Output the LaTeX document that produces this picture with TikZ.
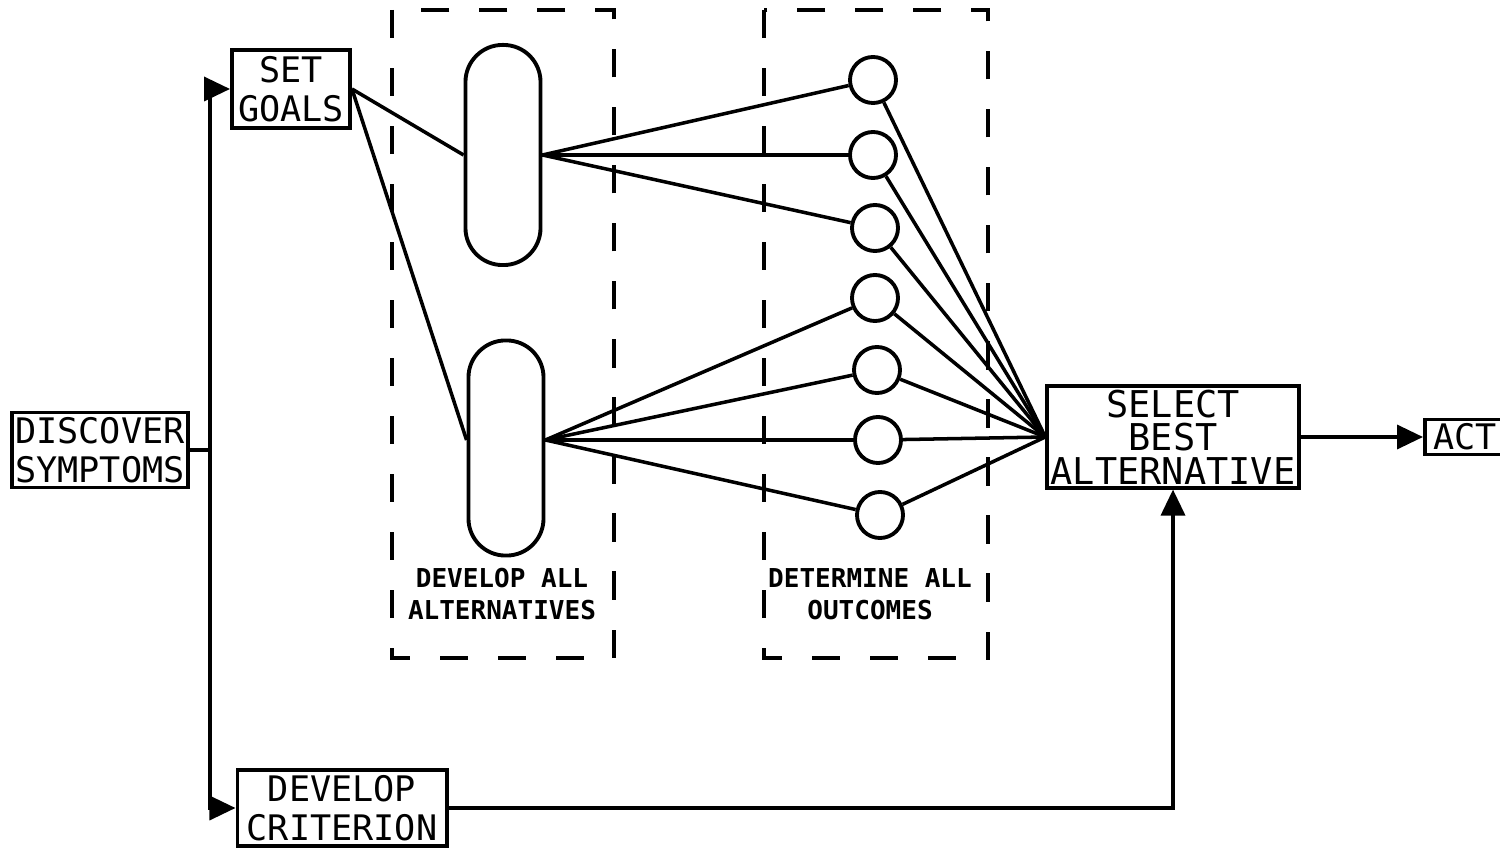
\documentclass[tikz,border=0pt]{standalone}
\usepackage{fontspec}
\newfontfamily\plotfont{DejaVu Sans Mono}
\usetikzlibrary{arrows.meta,positioning,shapes,calc}

\begin{document}
\begin{tikzpicture}[
  x=0.01cm, y=-0.01cm,
  box/.style={rectangle, draw, line width=1.1pt, align=center, inner sep=1pt,
              font=\plotfont\fontsize{10}{11}\selectfont},
  pill/.style={rectangle, draw, line width=1.1pt, rounded corners=0.37cm,
               minimum width=0.75cm},
  outcome/.style={circle, draw, line width=1.1pt, minimum size=0.46cm, inner sep=0pt},
  dashbox/.style={draw, line width=1.3pt, dash pattern=on 8pt off 8.5pt},
  lbl/.style={align=center, font=\plotfont\bfseries\fontsize{7.4}{9.2}\selectfont},
  arrow/.style={-{Triangle[length=2.6mm, width=2.4mm]}, line width=1pt},
  link/.style={line width=1pt}
]
\useasboundingbox (0,0) rectangle (1500,849);

% Main boxes
\node[box, minimum width=1.76cm, minimum height=0.75cm] (disc) at (100,450)
  {DISCOVER\\SYMPTOMS};
\node[box, minimum width=1.18cm, minimum height=0.78cm] (goals) at (291,89)
  {SET\\GOALS};
\node[box, minimum width=2.09cm, minimum height=0.76cm] (crit) at (342,808)
  {DEVELOP\\CRITERION};
\node[box, minimum width=2.42cm, minimum height=0.99cm,
      font=\plotfont\fontsize{10.5}{9.5}\selectfont] (sel) at (1173,437)
  {SELECT\\BEST\\ALTERNATIVE};
\node[box, minimum width=1.0cm, minimum height=0.35cm, anchor=west] (act) at (1423,437)
  {ACT\hspace{0.2cm}};

% Dashed stages
\draw[dashbox] (392,10) rectangle (614,658);
\draw[dashbox] (764,10) rectangle (988,658);
\node[lbl] (devlbl) at (502,594) {DEVELOP ALL\\ALTERNATIVES};
\node[lbl] (detlbl) at (870,594) {DETERMINE ALL\\OUTCOMES};

% Alternatives
\node[pill, minimum height=2.2cm] (alt1) at (503,155) {};
\node[pill, minimum height=2.15cm] (alt2) at (506,448) {};

% Outcomes
\node[outcome] (o1) at (873,80) {};
\node[outcome] (o2) at (873,155) {};
\node[outcome] (o3) at (875,228) {};
\node[outcome] (o4) at (875,298) {};
\node[outcome] (o5) at (877,370) {};
\node[outcome] (o6) at (878,440) {};
\node[outcome] (o7) at (880,515) {};

% Flow from symptoms
\coordinate (split) at (210,450);
\draw[link] (disc.east) -- (split);
\draw[arrow] (split) |- (goals.west);
\draw[arrow] (split) |- (crit.west);
\draw[arrow] (crit.east) -| (sel.south);
\draw[arrow] (sel.east) -- (act.west);

% Goals to alternatives
\draw[link] (goals.east) -- (alt1.west);
\draw[link] (goals.east) -- ([yshift=0.08cm]alt2.west);

% Alternatives to outcomes
\draw[link] (alt1.east) -- (o1);
\draw[link] (alt1.east) -- (o2);
\draw[link] (alt1.east) -- (o3);
\draw[link] ([yshift=0.08cm]alt2.east) -- (o4);
\draw[link] ([yshift=0.08cm]alt2.east) -- (o5);
\draw[link] ([yshift=0.08cm]alt2.east) -- (o6);
\draw[link] ([yshift=0.08cm]alt2.east) -- (o7);

% Outcomes to selection
\foreach \o in {o1,o2,o3,o4,o5,o6,o7}
  \draw[link] (\o) -- (sel.west);
\end{tikzpicture}
\end{document}
